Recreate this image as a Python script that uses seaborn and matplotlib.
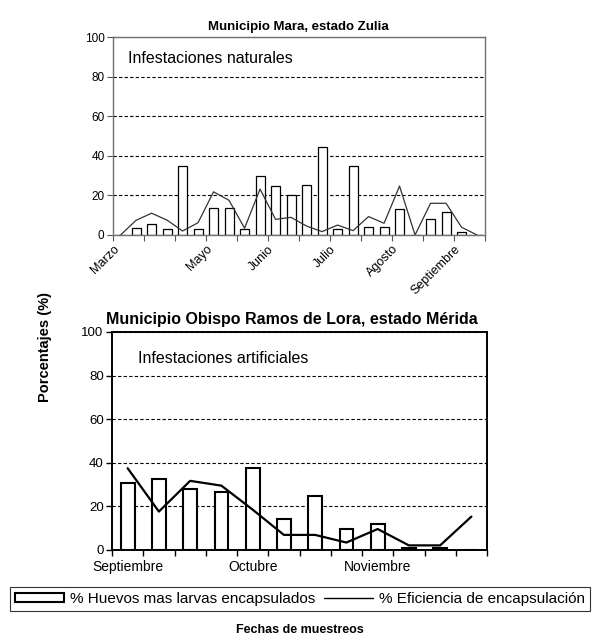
#-------------------------------------------------------------------------------
# plot.py
# Porcentajes de huevos + larvas encapsulados y eficiencia de encapsulacion
# (infestaciones naturales vs artificiales)
#-------------------------------------------------------------------------------

# --------------------------------------
# Import necessary libraries
# --------------------------------------
import numpy as np
import pandas as pd
import matplotlib
matplotlib.use("Agg")
import matplotlib.pyplot as plt
import seaborn as sns
from matplotlib.patches import Patch
from matplotlib.lines import Line2D

# --------------------------------------
# Data
# --------------------------------------

# Municipio Mara (infestaciones naturales), 24 muestreos
mara_huevos = [0, 3.5, 5.7, 2.9, 35, 3, 13.5, 13.5, 3, 30, 24.7, 20.2,
               25.3, 44.3, 3, 35, 3.9, 3.9, 13, 0, 8, 11.5, 1.5, 0]
mara_eficiencia = [0, 7.4, 11, 7.5, 2, 6.2, 21.8, 17.5, 3.4, 23.2, 7.9, 8.9,
                   4.5, 1.7, 5, 2.2, 9.3, 5.9, 24.7, 0, 16, 16, 3.9, 0]
mara_meses = ["Marzo", "", "", "Mayo", "", "Junio", "", "Julio", "",
              "Agosto", "", "Septiembre", ""]

# Municipio Obispo Ramos de Lora (infestaciones artificiales), 12 muestreos
lora_huevos = [30.6, 32.7, 27.8, 26.6, 37.8, 14.2, 24.9, 9.6, 11.9, 0.9, 0.9, 0]
lora_eficiencia = [37.5, 17.6, 31.7, 29.5, 18.5, 6.9, 6.9, 3.4, 9.6, 2.1, 2.1, 15.3]
lora_meses = ["Septiembre", "Octubre", "Noviembre"]

y_ticks = [0, 20, 40, 60, 80, 100]

df_mara = pd.DataFrame({"muestreo": np.arange(len(mara_huevos)),
                        "huevos": mara_huevos,
                        "eficiencia": mara_eficiencia})
df_lora = pd.DataFrame({"muestreo": np.arange(len(lora_huevos)),
                        "huevos": lora_huevos,
                        "eficiencia": lora_eficiencia})

# --------------------------------------
# Style
# --------------------------------------
sns.set_theme(style="white")
plt.rcParams["font.family"] = ["Liberation Sans", "DejaVu Sans"]
plt.rcParams["text.color"] = "black"
plt.rcParams["xtick.color"] = "black"
plt.rcParams["ytick.color"] = "black"
plt.rcParams["axes.labelcolor"] = "black"

fig = plt.figure(figsize=(6, 6.38), dpi=100)
ax1 = fig.add_axes([0.188, 0.6317, 0.62, 0.3103])
ax2 = fig.add_axes([0.1867, 0.138, 0.625, 0.3417])

# --------------------------------------
# Top chart: Mara, Zulia
# --------------------------------------
sns.barplot(data=df_mara, x="muestreo", y="huevos", ax=ax1, width=0.58,
            color="white", edgecolor="black", linewidth=0.9, saturation=1)
sns.lineplot(data=df_mara, x="muestreo", y="eficiencia", ax=ax1,
             color="#333333", linewidth=0.9)

n1 = len(mara_huevos)
ax1.set_xlim(-0.5, n1 - 0.5)
ax1.set_ylim(0, 100)
ax1.set_xticks(np.arange(-0.5, n1, 2))
ax1.set_xticklabels(mara_meses, rotation=45, ha="right", rotation_mode="anchor",
                    fontsize=9)
ax1.set_yticks(y_ticks)
ax1.set_yticklabels(y_ticks, fontsize=8.5)
ax1.set_xlabel("")
ax1.set_ylabel("")
ax1.yaxis.grid(True, color="black", linestyle=(0, (3, 2)), linewidth=0.8)
ax1.tick_params(axis="both", direction="out", length=4, width=0.8,
                color="#555555", pad=2, bottom=True, left=True)
for s in ax1.spines.values():
    s.set_color("#707070")
    s.set_linewidth(1)
ax1.set_title("Municipio Mara, estado Zulia", fontsize=9.5, fontweight="bold",
              pad=5)
ax1.text(0.04, 0.89, "Infestaciones naturales", transform=ax1.transAxes,
         fontsize=11.5, va="center")

# --------------------------------------
# Bottom chart: Obispo Ramos de Lora, Merida
# --------------------------------------
sns.barplot(data=df_lora, x="muestreo", y="huevos", ax=ax2, width=0.44,
            color="white", edgecolor="black", linewidth=1.5, saturation=1)
sns.lineplot(data=df_lora, x="muestreo", y="eficiencia", ax=ax2,
             color="black", linewidth=1.6)

n2 = len(lora_huevos)
ax2.set_xlim(-0.5, n2 - 0.5)
ax2.set_ylim(0, 100)
ax2.set_xticks([0, 4, 8])
ax2.set_xticklabels(lora_meses, fontsize=10)
ax2.set_xticks(np.arange(-0.5, n2, 1), minor=True)
ax2.set_yticks(y_ticks)
ax2.set_yticklabels(y_ticks, fontsize=9.5)
ax2.set_xlabel("")
ax2.set_ylabel("")
ax2.yaxis.grid(True, color="black", linestyle=(0, (3, 2)), linewidth=0.8)
ax2.tick_params(axis="x", which="major", length=0, pad=7)
ax2.tick_params(axis="x", which="minor", direction="out", length=4,
                width=1, color="black", bottom=True)
ax2.tick_params(axis="y", direction="out", length=4, width=1, color="black",
                left=True, pad=2)
for s in ax2.spines.values():
    s.set_color("black")
    s.set_linewidth(1.4)
ax2.set_title("Municipio Obispo Ramos de Lora, estado Mérida", fontsize=11.5,
              fontweight="bold", pad=6, x=0.48)
ax2.text(0.07, 0.88, "Infestaciones artificiales", transform=ax2.transAxes,
         fontsize=11.5, va="center")

# --------------------------------------
# Shared labels and legend
# --------------------------------------
fig.text(0.075, 1 - 347 / 638, "Porcentajes (%)", rotation=90, ha="center",
         va="center", fontsize=10.5, fontweight="bold")
fig.text(0.5, 1 - 630 / 638, "Fechas de muestreos", ha="center",
         va="center", fontsize=9, fontweight="bold")

handles = [Patch(facecolor="white", edgecolor="black", linewidth=1.5),
           Line2D([0], [0], color="black", linewidth=1)]
labels = ["% Huevos mas larvas encapsulados", "% Eficiencia de encapsulación"]
leg = fig.legend(handles, labels, ncol=2, loc="center",
                 bbox_to_anchor=(0.5, 1 - 599 / 638), fontsize=11,
                 frameon=True, fancybox=False, edgecolor="black",
                 handlelength=3.2, handleheight=0.45, handletextpad=0.4,
                 columnspacing=0.6, borderpad=0.3)
leg.get_frame().set_linewidth(0.8)

fig.savefig("out.png", dpi=100, facecolor="white")
